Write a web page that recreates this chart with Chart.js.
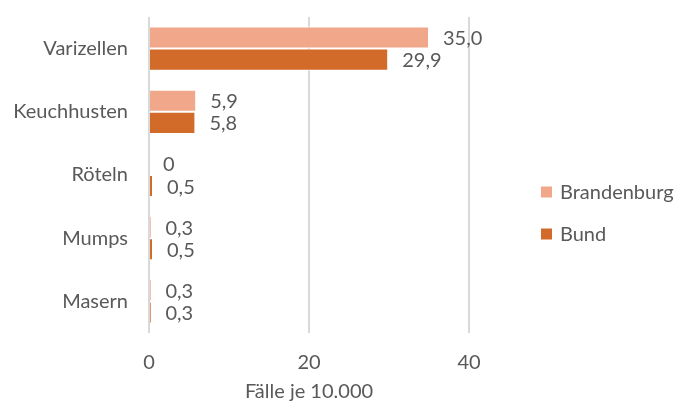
<!DOCTYPE html>
<html>
<head>
<meta charset="utf-8">
<script src="https://cdn.jsdelivr.net/npm/chart.js@4.4.1/dist/chart.umd.min.js"></script>
<style>
html,body{margin:0;padding:0;background:#fff;}
#wrap{width:679px;height:404px;position:relative;}
</style>
</head>
<body>
<div id="wrap"><canvas id="c" width="679" height="404"></canvas></div>
<script>
const categories = ['Varizellen', 'Keuchhusten', 'Röteln', 'Mumps', 'Masern'];
const brandenburg = [35.0, 5.9, 0, 0.3, 0.3];
const bund = [29.9, 5.8, 0.5, 0.5, 0.3];
const xTicks = [0, 20, 40];
const seriesNames = ['Brandenburg', 'Bund'];
const axisTitle = 'Fälle je 10.000';

const TEXT = '#595959';
const FONT = 'Lato, "Open Sans", sans-serif';
const FS = 20;

function fmt(v){ return v === 0 ? '0' : v.toFixed(1).replace('.', ','); }

const labelPlugin = {
  id: 'valueLabels',
  afterDatasetsDraw(chart){
    const ctx = chart.ctx;
    ctx.save();
    ctx.font = FS + 'px ' + FONT;
    ctx.fillStyle = TEXT;
    ctx.textAlign = 'left';
    ctx.textBaseline = 'middle';
    chart.data.datasets.forEach((ds, i) => {
      const meta = chart.getDatasetMeta(i);
      meta.data.forEach((el, j) => {
        ctx.fillText(fmt(ds.data[j]), el.x + 14, el.y + 1);
      });
    });
    ctx.restore();
  }
};

const legendPlugin = {
  id: 'sideLegend',
  afterDraw(chart){
    const ctx = chart.ctx;
    ctx.save();
    ctx.font = FS + 'px ' + FONT;
    ctx.textAlign = 'left';
    ctx.textBaseline = 'middle';
    const x0 = chart.chartArea.right + 72;
    const yc = [192, 234];
    chart.data.datasets.forEach((ds, i) => {
      ctx.fillStyle = ds.backgroundColor;
      ctx.fillRect(x0, yc[i] - 5.5, 11, 11);
      ctx.fillStyle = TEXT;
      ctx.fillText(ds.label, x0 + 19, yc[i] + 1);
    });
    ctx.restore();
  }
};

new Chart(document.getElementById('c'), {
  type: 'bar',
  data: {
    labels: categories,
    datasets: [
      { label: seriesNames[0], data: brandenburg, backgroundColor: '#F1A88A', borderColor: '#ffffff', borderWidth: 1, categoryPercentage: 0.7, barPercentage: 1 },
      { label: seriesNames[1], data: bund, backgroundColor: '#D26B2A', borderColor: '#ffffff', borderWidth: 1, categoryPercentage: 0.7, barPercentage: 1 }
    ]
  },
  options: {
    indexAxis: 'y',
    responsive: false,
    animation: false,
    devicePixelRatio: 1,
    layout: { padding: { top: 17, right: 210, left: 0, bottom: 0 } },
    plugins: { legend: { display: false }, tooltip: { enabled: false } },
    scales: {
      x: {
        min: 0, max: 40,
        afterBuildTicks(scale){ scale.ticks = xTicks.map(v => ({ value: v })); },
        afterFit(scale){ scale.height = 71; },
        grid: { color: '#D9D9D9', lineWidth: 2, drawTicks: false },
        border: { display: false },
        ticks: { color: TEXT, font: { family: FONT, size: FS }, padding: 18 },
        title: { display: true, text: axisTitle, color: TEXT, font: { family: FONT, size: FS }, padding: { top: 4, bottom: 0 } }
      },
      y: {
        afterFit(scale){ scale.width = 149; scale.paddingTop = 0; scale.paddingBottom = 0; },
        grid: { display: false, drawTicks: false },
        border: { display: false },
        ticks: { color: TEXT, font: { family: FONT, size: FS }, padding: 21 }
      }
    }
  },
  plugins: [labelPlugin, legendPlugin]
});
</script>
</body>
</html>
